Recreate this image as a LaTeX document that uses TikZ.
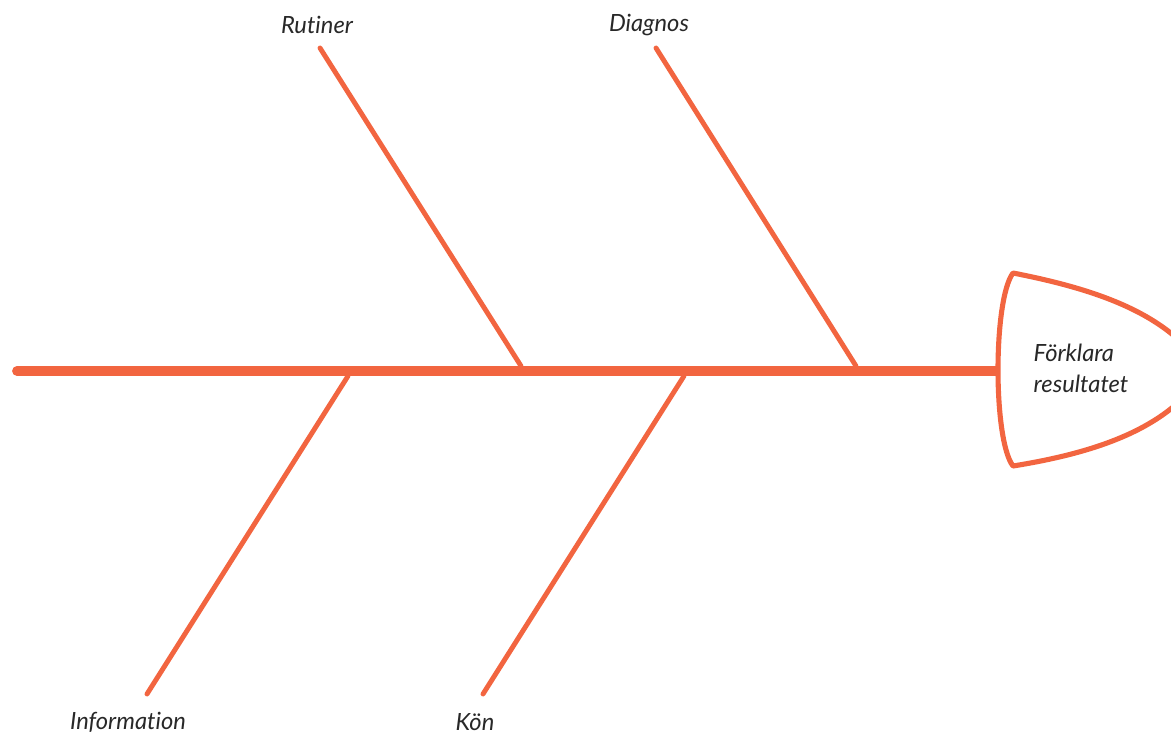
\documentclass[tikz,border=0pt]{standalone}
\usepackage{fontspec}
\setmainfont{Lato}[Ligatures=NoCommon]
\usepackage{tikz}
\usetikzlibrary{positioning}
\definecolor{bone}{RGB}{242,101,64}
\definecolor{ink}{RGB}{40,40,40}

\begin{document}
\begin{tikzpicture}[
    x=0.02cm, y=-0.02cm,
    spine/.style={draw=bone, line width=5.6pt, line cap=round},
    branch/.style={draw=bone, line width=2.8pt, line cap=round},
    headline/.style={draw=bone, line width=2.9pt, line join=round, fill=white},
    cause/.style={font=\fontsize{13.5}{16}\selectfont\itshape, text=ink, inner sep=0pt},
    effect/.style={font=\fontsize{13.5}{17.5}\selectfont\itshape, text=ink, align=left, inner sep=0pt}
]
    \useasboundingbox (0,0) rectangle (1171,734);
    \clip (0,0) rectangle (1171,734);

    % ryggrad
    \coordinate (tail) at (17,371);
    \coordinate (neck) at (1000,371);
    \draw[spine] (tail) -- (neck);

    % huvud
    \draw[headline] (1013,273) .. controls (1100,290) and (1170,315) .. (1205,371)
        .. controls (1170,427) and (1100,452) .. (1013,466)
        .. controls (993,440) and (993,300) .. cycle;
    \node[effect] (result) at (1081,368) {Förklara\\resultatet};

    % orsaker ovanför
    \node[cause] (rutiner) at (317,25) {Rutiner};
    \node[cause] (diagnos) at (649,25) {Diagnos};
    \coordinate (r1) at (320,48);
    \coordinate (r2) at (521,366);
    \coordinate (d1) at (656,48);
    \coordinate (d2) at (856,366);
    \draw[branch] (r1) -- (r2);
    \draw[branch] (d1) -- (d2);

    % orsaker nedanför
    \node[cause] (info) at (128,722) {Information};
    \node[cause] (kon) at (475,722) {Kön};
    \coordinate (i1) at (348,376);
    \coordinate (i2) at (147,694);
    \coordinate (k1) at (684,376);
    \coordinate (k2) at (483,694);
    \draw[branch] (i1) -- (i2);
    \draw[branch] (k1) -- (k2);
\end{tikzpicture}
\end{document}
